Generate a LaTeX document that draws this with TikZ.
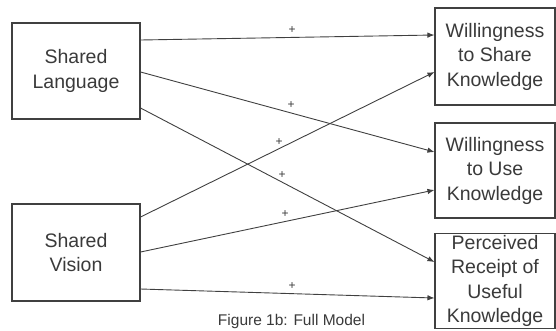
\documentclass[tikz,border=0pt]{standalone}
\usepackage{fontspec}
\setmainfont{Liberation Sans}
\usetikzlibrary{arrows.meta}
\definecolor{ink}{HTML}{3A3A3A}
\definecolor{edge}{HTML}{404040}
\begin{document}
\begin{tikzpicture}[x=1pt,y=-1pt,
  box/.style={draw=edge,line width=1.1pt,rectangle,inner sep=0pt,align=center,
    text=ink,font=\fontsize{19.5}{24.5}\selectfont},
  conn/.style={draw=edge,line width=0.9pt,-{Latex[length=7pt,width=5.5pt]}},
  plus/.style={text=ink,font=\fontsize{12}{13}\selectfont,inner sep=0pt},
  captiontext/.style={text=ink,font=\fontsize{15.5}{17}\selectfont,inner sep=0pt}]
\useasboundingbox (0,0) rectangle (556,330);
\node[box,minimum width=128pt,minimum height=96pt] (SL) at (76,71) {Shared\\Language};
\node[box,minimum width=128pt,minimum height=97pt] (SV) at (76,252.5) {Shared\\Vision};
\node[box,minimum width=120pt,minimum height=97pt] (WS) at (495,56.5) {Willingness\\to Share\\Knowledge};
\node[box,minimum width=120pt,minimum height=95pt] (WU) at (495,170.5) {Willingness\\to Use\\Knowledge};
\node[box,minimum width=120pt,minimum height=95pt] (PR) at (495,281) {Perceived\\Receipt of\\Useful\\Knowledge};
\draw[conn] (SL.east |- 0,40) -- (WS.west |- 0,35);
\draw[conn] (SL.east |- 0,72) -- (WU.west |- 0,152);
\draw[conn] (SL.east |- 0,108) -- (PR.west |- 0,262);
\draw[conn] (SV.east |- 0,217) -- (WS.west |- 0,72);
\draw[conn] (SV.east |- 0,252) -- (WU.west |- 0,190);
\draw[conn] (SV.east |- 0,289) -- (PR.west |- 0,298);
\node[plus] (p1) at (292,30) {+};
\node[plus] (p2) at (291,105) {+};
\node[plus] (p3) at (282,175) {+};
\node[plus] (p4) at (279,142) {+};
\node[plus] (p5) at (285,214) {+};
\node[plus] (p6) at (292,286) {+};
\node[captiontext] (caption) at (291.5,321) {Figure 1b: Full Model};
\end{tikzpicture}
\end{document}
